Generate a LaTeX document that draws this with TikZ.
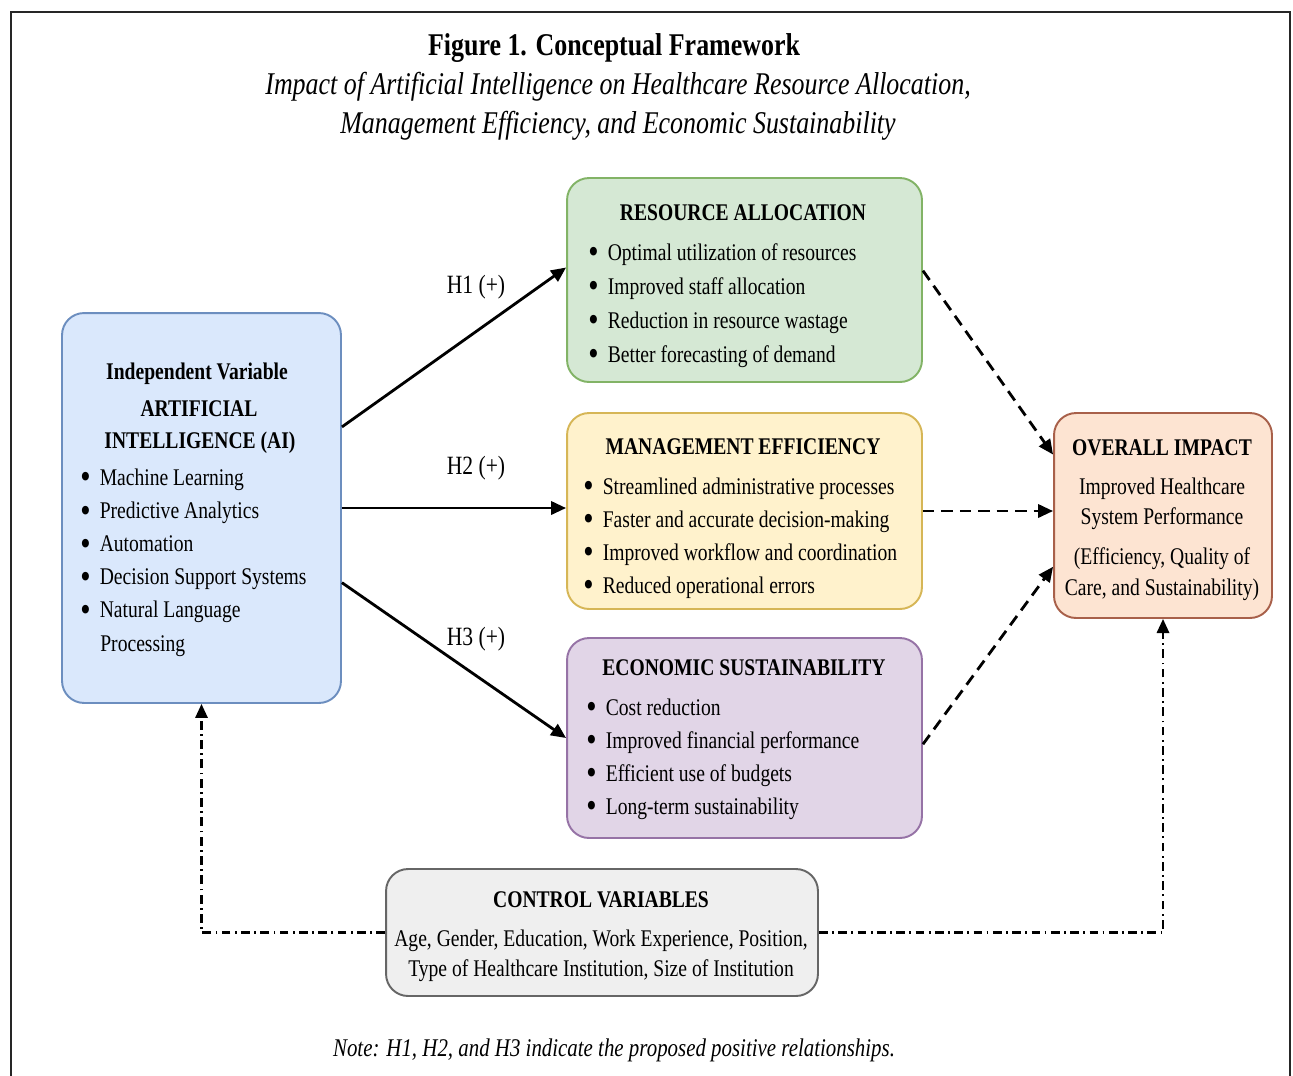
\documentclass[tikz,border=0pt]{standalone}
\usepackage{fontspec}
\usepackage{graphicx}
\setmainfont{Liberation Serif}[FakeStretch=0.82]
\usetikzlibrary{arrows.meta}

\definecolor{aiFill}{HTML}{DAE8FC}
\definecolor{aiLine}{HTML}{6C8EBF}
\definecolor{resFill}{HTML}{D5E8D4}
\definecolor{resLine}{HTML}{82B366}
\definecolor{mgtFill}{HTML}{FFF2CC}
\definecolor{mgtLine}{HTML}{D6B656}
\definecolor{ecoFill}{HTML}{E1D5E7}
\definecolor{ecoLine}{HTML}{9673A6}
\definecolor{impFill}{HTML}{FDE4D2}
\definecolor{impLine}{HTML}{A8604A}
\definecolor{ctrlFill}{HTML}{EFEFEF}
\definecolor{ctrlLine}{HTML}{666666}

\newcommand{\bul}{\raisebox{-2.2pt}{\scalebox{1.5}{\textbullet}}\hspace{5.2pt}}

\begin{document}
\begin{tikzpicture}[x=0.02cm, y=-0.02cm,
    box/.style={draw, rectangle, rounded corners=0.44cm, line width=1.1pt, inner sep=0pt},
    txt/.style={inner sep=0pt, anchor=base, font=\fontsize{13.6}{16}\selectfont},
    head/.style={txt, font=\fontsize{13.6}{16}\selectfont\bfseries},
    item/.style={txt, anchor=base west},
    hyp/.style={-{Triangle[length=8.5pt, width=7.5pt]}, line width=1.6pt},
    effect/.style={-{Triangle[length=8.5pt, width=7.5pt]}, line width=1.6pt, dash pattern=on 6.5pt off 4pt},
    cvar/.style={-{Triangle[length=8pt, width=7pt]}, line width=1.3pt, dash pattern=on 5pt off 2.5pt on 1pt off 2.5pt}]
    \useasboundingbox (0,0) rectangle (1293,1075);
    \draw[line width=1.5pt, black!85] (11,1100) -- (11,12) -- (1290,12) -- (1290,1100);

    % title
    \node[txt, font=\fontsize{18}{22}\selectfont\bfseries] (title) at (614,55) {Figure 1. Conceptual Framework};
    \node[txt, font=\fontsize{18}{22}\selectfont\itshape] (sub1) at (618,94) {Impact of Artificial Intelligence on Healthcare Resource Allocation,};
    \node[txt, font=\fontsize{18}{22}\selectfont\itshape] (sub2) at (618,133) {Management Efficiency, and Economic Sustainability};

    % boxes
    \node[box, fill=aiFill, draw=aiLine, minimum width=5.58cm, minimum height=7.8cm] (ai) at (201.5,508) {};
    \node[box, fill=resFill, draw=resLine, minimum width=7.1cm, minimum height=4.08cm] (res) at (744.5,280) {};
    \node[box, fill=mgtFill, draw=mgtLine, minimum width=7.1cm, minimum height=3.92cm] (mgt) at (744.5,511) {};
    \node[box, fill=ecoFill, draw=ecoLine, minimum width=7.1cm, minimum height=4cm] (eco) at (744.5,738) {};
    \node[box, fill=impFill, draw=impLine, minimum width=4.36cm, minimum height=4.1cm] (imp) at (1163,515.5) {};
    \node[box, fill=ctrlFill, draw=ctrlLine, minimum width=8.64cm, minimum height=2.54cm] (ctrl) at (602,932.5) {};

    % independent variable
    \node[head] (aiHead) at (197,379) {Independent Variable};
    \node[head] (aiName1) at (199,416) {ARTIFICIAL};
    \node[head] (aiName2) at (200,448) {INTELLIGENCE (AI)};
    \foreach \t [count=\i] in {Machine Learning, Predictive Analytics, Automation, Decision Support Systems, Natural Language}
        \node[item] (ai\i) at (80, {485+33.2*(\i-1)}) {\bul\t};
    \node[item] (ai6) at (100,651) {Processing};

    % mediators
    \node[head] (resHead) at (743,220) {RESOURCE ALLOCATION};
    \foreach \t [count=\i] in {Optimal utilization of resources, Improved staff allocation, Reduction in resource wastage, Better forecasting of demand}
        \node[item] (res\i) at (588, {260+34*(\i-1)}) {\bul\t};

    \node[head] (mgtHead) at (743,454) {MANAGEMENT EFFICIENCY};
    \foreach \t [count=\i] in {Streamlined administrative processes, Faster and accurate decision-making, Improved workflow and coordination, Reduced operational errors}
        \node[item] (mgt\i) at (583, {494+33*(\i-1)}) {\bul\t};

    \node[head] (ecoHead) at (744,675) {ECONOMIC SUSTAINABILITY};
    \foreach \t [count=\i] in {Cost reduction, Improved financial performance, Efficient use of budgets, Long-term sustainability}
        \node[item] (eco\i) at (586, {715+33*(\i-1)}) {\bul\t};

    % outcome
    \node[head] (impHead) at (1162,455) {OVERALL IMPACT};
    \node[txt] (imp1) at (1162,494) {Improved Healthcare};
    \node[txt] (imp2) at (1162,524) {System Performance};
    \node[txt] (imp3) at (1162,564) {(Efficiency, Quality of};
    \node[txt] (imp4) at (1162,595) {Care, and Sustainability)};

    % controls
    \node[head] (ctrlHead) at (601,907) {CONTROL VARIABLES};
    \node[txt] (ctrl1) at (601,946) {Age, Gender, Education, Work Experience, Position,};
    \node[txt] (ctrl2) at (601,976) {Type of Healthcare Institution, Size of Institution};

    % hypotheses
    \draw[hyp] (ai.30) -- (res.176);
    \draw[hyp] (ai.east) -- (ai.east -| mgt.west);
    \draw[hyp] (ai.-28) -- (eco.west);
    \node[txt, font=\fontsize{15}{18}\selectfont] (h1) at (476,293) {H1 (+)};
    \node[txt, font=\fontsize{15}{18}\selectfont] (h2) at (476,474) {H2 (+)};
    \node[txt, font=\fontsize{15}{18}\selectfont] (h3) at (476,645) {H3 (+)};

    \draw[effect] (res.3) -- (imp.151);
    \draw[effect] (mgt.east) -- (mgt.east -| imp.west);
    \draw[effect] (eco.-2) -- (imp.205);

    \draw[cvar] (ctrl.west) -| (ai.south);
    \draw[cvar] (ctrl.east) -| (imp.south);

    \node[txt, font=\fontsize{14.5}{18}\selectfont\itshape] (note) at (614,1056) {Note: H1, H2, and H3 indicate the proposed positive relationships.};
\end{tikzpicture}
\end{document}
